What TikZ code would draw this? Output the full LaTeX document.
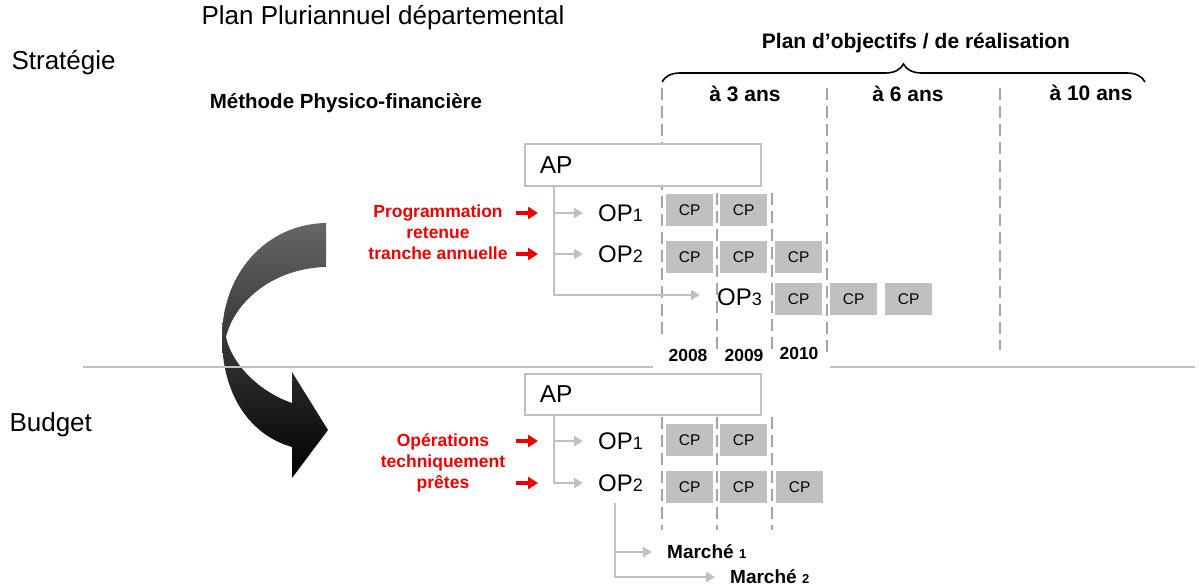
\documentclass[tikz,border=0pt]{standalone}
\usepackage{fontspec}
\setmainfont{Liberation Sans}
\usetikzlibrary{arrows.meta,positioning,calc,decorations.pathreplacing}
\definecolor{linegray}{RGB}{192,192,192}
\definecolor{dashgray}{RGB}{165,165,165}
\definecolor{cpgray}{RGB}{192,192,192}
\definecolor{redtxt}{RGB}{238,0,0}
\tikzset{
  tree/.style={draw=linegray, line width=2.8pt, -{Triangle[length=9pt,width=10pt]}},
  redarr/.style={-{Triangle[length=10pt,width=12pt]}, redtxt, line width=4pt},
  yrline/.style={dashgray, line width=1.6pt, dash pattern=on 12pt off 6pt},
  divider/.style={linegray, line width=1.8pt},
  apbox/.style={draw=linegray, fill=white, line width=1.8pt, minimum width=236pt,
                minimum height=42pt, text width=206pt, inner xsep=15pt, align=left,
                anchor=north west, font=\fontsize{24.5}{26}\selectfont},
  opname/.style={anchor=west, inner sep=0pt, font=\fontsize{24}{26}\selectfont},
  cpbox/.style={fill=cpgray, minimum width=47pt, minimum height=32pt, inner sep=0pt,
                anchor=north west, font=\fontsize{15.5}{16}\selectfont},
  yrlab/.style={font=\fontsize{17.5}{18}\selectfont\bfseries},
  redlab/.style={redtxt, align=center, font=\fontsize{17.5}{21}\selectfont\bfseries},
  big/.style={font=\fontsize{26}{28}\selectfont},
  sub/.style={font=\fontsize{21}{23}\selectfont\bfseries},
  mlab/.style={anchor=west, inner sep=0pt, font=\fontsize{19}{20}\selectfont\bfseries},
}
\newcommand{\dig}[1]{{\fontsize{18}{20}\selectfont #1}}
\newcommand{\mdig}[1]{{\fontsize{13}{14}\selectfont #1}}

\begin{document}
\begin{tikzpicture}[x=1pt, y=-1pt]
  \useasboundingbox (0,0) rectangle (1199,587);
  % headings
  \node[big] (plan) at (383,18) {Plan Pluriannuel départemental};
  \node[big, anchor=west] (strat) at (8,63) {Stratégie};
  \node[big, anchor=west] (budget) at (6,425) {Budget};
  \node[sub, font=\fontsize{20.5}{22}\selectfont\bfseries] (methode) at (346,103) {Méthode Physico-financière};
  \node[sub] (plobj) at (916,43) {Plan d'objectifs / de réalisation};
  \draw[line width=1.6pt, decorate, decoration={brace, amplitude=18pt}] (662,82) -- (1145,82);
  \node[sub] (ans3) at (745,94) {à 3 ans};
  \node[sub] (ans6) at (908,94) {à 6 ans};
  \node[sub] (ans10) at (1091,93) {à 10 ans};

  % year limits
  \draw[yrline] (662,88) -- (662,340);
  \draw[yrline] (717,193) -- (717,352);
  \draw[yrline] (772,193) -- (772,350);
  \draw[yrline] (827,88) -- (827,356);
  \draw[yrline] (1000,88) -- (1000,350);
  \foreach \x in {662,717,772}
    \draw[yrline] (\x,417) -- (\x,530);

  % twisting arrow
  \shade[top color=black!60, bottom color=black]
    (326,223) .. controls (265,224) and (222,275) .. (222,337)
    .. controls (222,395) and (250,435) .. (292,447)
    -- (292,478) -- (328,430) -- (292,372) -- (292,403)
    .. controls (260,392) and (232,365) .. (226,337)
    .. controls (235,300) and (275,268) .. (326,267) -- cycle;
  \draw[divider] (83,367) -- (653,367);
  \draw[divider] (830,367) -- (1195,367);

  % strategie
  \node[apbox] (ap1) at (524,143) {AP};
  \node[opname] (op11) at (598,213) {OP\dig{1}};
  \node[opname] (op12) at (598,254) {OP\dig{2}};
  \node[opname] (op13) at (717,297) {OP\dig{3}};
  \coordinate (trunk1) at ([xshift=30pt]ap1.south west);
  \draw[tree] (trunk1) |- ([xshift=-15pt]op11.west);
  \draw[tree] (trunk1) |- ([xshift=-15pt]op12.west);
  \draw[tree] (trunk1) |- ([xshift=-17pt,yshift=2pt]op13.west);
  \foreach \x [count=\i] in {666,720}
    \node[cpbox] (cpa\i) at (\x,194) {CP};
  \foreach \x [count=\i] in {666,720,775}
    \node[cpbox] (cpb\i) at (\x,241) {CP};
  \foreach \x [count=\i] in {775,830,885}
    \node[cpbox] (cpc\i) at (\x,283) {CP};
  \node[yrlab] (y2008) at (688,355) {2008};
  \node[yrlab] (y2009) at (744,355) {2009};
  \node[yrlab] (y2010) at (799,353) {2010};
  \node[redlab] (prog) at (438,232) {Programmation\\retenue\\tranche annuelle};
  \coordinate (ra1) at (516,213);
  \coordinate (ra2) at (516,254);
  \draw[redarr] (ra1) -- ++(22,0);
  \draw[redarr] (ra2) -- ++(22,0);

  % budget
  \node[apbox, minimum height=41pt] (ap2) at (524,373) {AP};
  \node[opname] (op21) at (598,441) {OP\dig{1}};
  \node[opname] (op22) at (598,483) {OP\dig{2}};
  \coordinate (trunk2) at ([xshift=30pt]ap2.south west);
  \draw[tree] (trunk2) |- ([xshift=-15pt]op21.west);
  \draw[tree] (trunk2) |- ([xshift=-15pt]op22.west);
  \foreach \x [count=\i] in {666,720}
    \node[cpbox] (cpd\i) at (\x,424) {CP};
  \foreach \x [count=\i] in {666,720,776}
    \node[cpbox] (cpe\i) at (\x,471) {CP};
  \node[redlab] (opera) at (443,463) {Opérations\\techniquement\\prêtes};
  \coordinate (rb1) at (516,441);
  \coordinate (rb2) at (516,483);
  \draw[redarr] (rb1) -- ++(22,0);
  \draw[redarr] (rb2) -- ++(22,0);

  % marches
  \node[mlab] (m1) at (667,552) {Marché \mdig{1}};
  \node[mlab] (m2) at (730,577) {Marché \mdig{2}};
  \coordinate (trunk3) at (615,503);
  \draw[tree] (trunk3) |- ([xshift=-15pt]m1.west);
  \draw[tree] (trunk3) |- ([xshift=-15pt]m2.west);
\end{tikzpicture}
\end{document}
